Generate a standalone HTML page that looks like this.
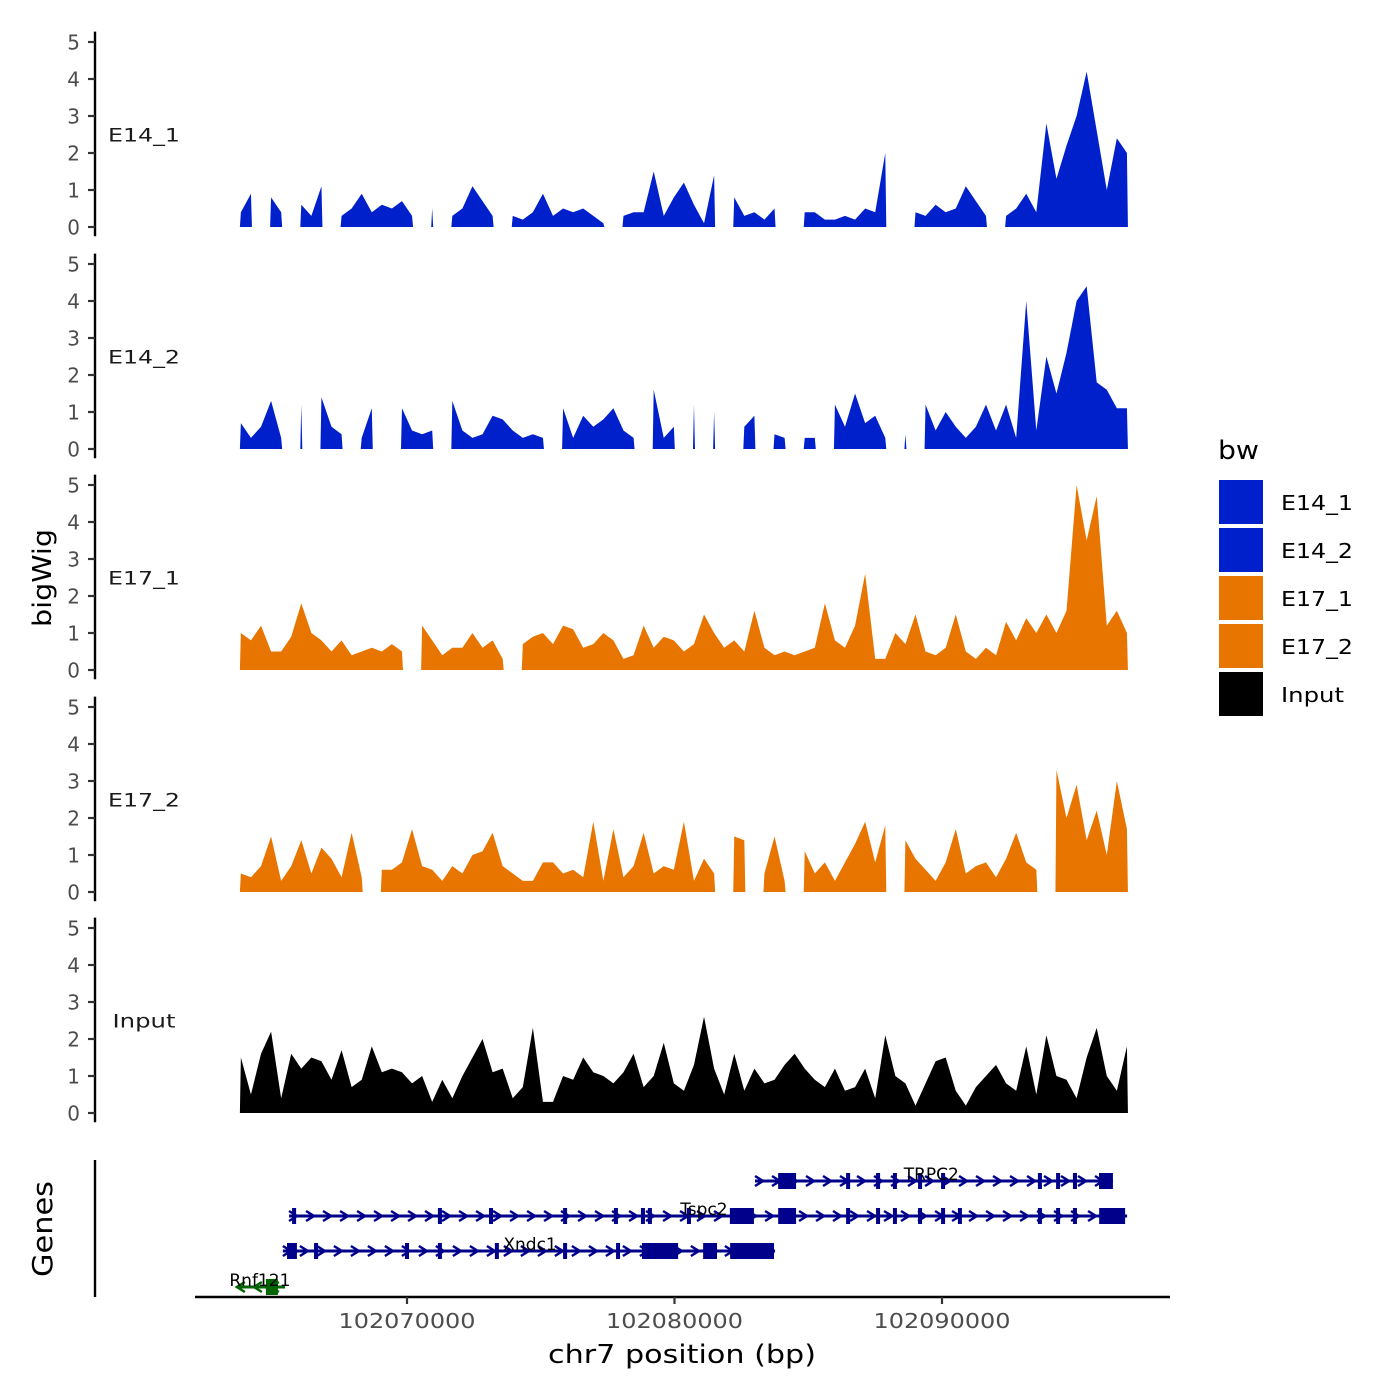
<!DOCTYPE html>
<html><head><meta charset="utf-8"><style>
html,body{margin:0;padding:0;background:#fff}
svg{display:block;font-family:"DejaVu Sans","Liberation Sans",sans-serif}
</style></head><body>
<svg id="chart" width="1400" height="1400" viewBox="0 0 1400 1400"></svg>
<script>
// ---- data ----
const trackNames = ["E14_1","E14_2","E17_1","E17_2","Input"];
const trackColors = ["#0020CC","#0020CC","#E87500","#E87500","#000000"];
const binStartKb = 63.79;   // kb offset from 102000000
const binStepKb = 0.3764;
const e14_1 = [0.4,0.9,null,0.8,0.4,null,0.6,0.3,1.1,null,0.3,0.5,0.9,0.4,0.6,0.5,0.7,0.3,null,0.5,null,0.3,0.5,1.1,0.7,0.3,null,0.3,0.2,0.4,0.9,0.3,0.5,0.4,0.5,0.3,0.1,null,0.3,0.4,0.4,1.5,0.3,0.8,1.2,0.6,0.1,1.4,null,0.8,0.3,0.4,0.2,0.5,null,null,0.4,0.4,0.2,0.2,0.3,0.2,0.5,0.4,2.0,null,null,0.4,0.3,0.6,0.4,0.5,1.1,0.7,0.3,null,0.3,0.5,0.9,0.4,2.8,1.3,2.2,3.0,4.2,2.6,1.0,2.4,2.0];
const e14_2 = [0.7,0.3,0.6,1.3,0.3,null,1.2,null,1.4,0.6,0.4,null,0.3,1.1,null,null,1.1,0.5,0.4,0.5,null,1.3,0.5,0.3,0.4,0.9,0.8,0.5,0.3,0.4,0.3,null,1.1,0.3,0.9,0.6,0.8,1.1,0.5,0.3,null,1.6,0.3,0.6,null,1.2,null,1.0,null,null,0.6,0.9,null,0.4,0.3,null,0.3,0.3,null,1.2,0.6,1.5,0.7,0.9,0.3,null,0.4,null,1.2,0.5,1.0,0.6,0.3,0.6,1.2,0.5,1.2,0.3,4.0,0.5,2.5,1.5,2.6,4.0,4.4,1.8,1.6,1.1,1.1];
const e17_1 = [1.0,0.8,1.2,0.5,0.5,0.9,1.8,1.0,0.8,0.5,0.8,0.4,0.5,0.6,0.5,0.7,0.5,null,1.2,0.8,0.4,0.6,0.6,1.0,0.6,0.8,0.3,null,0.7,0.9,1.0,0.7,1.2,1.1,0.6,0.7,1.0,0.8,0.3,0.4,1.2,0.6,0.9,0.8,0.5,0.7,1.5,1.0,0.6,0.8,0.5,1.6,0.6,0.4,0.5,0.4,0.5,0.6,1.8,0.8,0.6,1.2,2.6,0.3,0.3,1.0,0.7,1.5,0.5,0.4,0.6,1.5,0.5,0.3,0.6,0.4,1.3,0.8,1.4,1.0,1.5,1.0,1.6,5.0,3.5,4.7,1.2,1.6,1.0];
const e17_2 = [0.5,0.4,0.7,1.5,0.3,0.7,1.4,0.5,1.2,0.9,0.4,1.6,0.4,null,0.6,0.6,0.8,1.7,0.7,0.6,0.3,0.7,0.5,1.0,1.1,1.6,0.7,0.5,0.3,0.3,0.8,0.8,0.5,0.6,0.4,1.9,0.3,1.7,0.4,0.7,1.6,0.5,0.7,0.6,1.9,0.3,0.9,0.5,null,1.5,1.4,null,0.5,1.5,0.3,null,1.1,0.5,0.8,0.3,0.8,1.3,1.9,0.8,1.8,null,1.4,0.9,0.6,0.3,0.8,1.7,0.5,0.7,0.8,0.4,0.9,1.6,0.8,0.6,null,3.3,2.0,2.9,1.4,2.2,1.0,3.0,1.7];
const input = [1.5,0.5,1.6,2.2,0.4,1.6,1.2,1.5,1.4,0.9,1.7,0.7,0.9,1.8,1.1,1.2,1.1,0.8,1.0,0.3,0.9,0.4,1.0,1.5,2.0,1.1,1.2,0.4,0.7,2.3,0.3,0.3,1.0,0.9,1.5,1.1,1.0,0.8,1.1,1.6,0.7,1.0,1.9,0.8,0.6,1.3,2.6,1.2,0.5,1.6,0.6,1.2,0.8,0.9,1.3,1.6,1.2,0.9,0.7,1.2,0.6,0.7,1.2,0.4,2.1,1.0,0.8,0.2,0.8,1.4,1.5,0.6,0.2,0.7,1.0,1.3,0.8,0.6,1.8,0.5,2.1,1.0,0.9,0.4,1.5,2.3,1.0,0.6,1.8];
const trackValues = [e14_1,e14_2,e17_1,e17_2,input];
const yTicks = [0,1,2,3,4,5];
const xTickKb = [70,80,90];
const xTickLabels = ["102070000","102080000","102090000"];
// genes (kb offset from 102000000)
const geneNames = ["TRPC2","Tspc2","Xndc1","Rnf121"];
const geneStarts = [83.01,65.59,65.36,63.64];
const geneEnds = [96.39,96.92,83.76,65.44];
const geneStrand = [1,1,1,-1];
const geneColors = ["#00008B","#00008B","#00008B","#006400"];
const geneLabelKb = [89.6,81.1,74.6,64.5];
const geneExonCenters = [
 [84.21,86.49,87.61,88.24,89.18,90.04,93.66,94.34,94.97,96.13],
 [65.78,71.23,73.14,75.91,77.81,78.82,79.08,80.54,82.52,84.21,86.49,87.61,88.24,89.18,90.04,90.67,93.66,94.34,94.97,96.36],
 [65.70,66.60,70.0,71.23,73.36,75.91,77.89,79.46,81.33,82.90],
 [64.95]
];
const geneExonWidths = [
 [0.67,0.15,0.15,0.15,0.15,0.15,0.15,0.15,0.15,0.52],
 [0.15,0.15,0.15,0.15,0.15,0.15,0.15,0.15,0.9,0.67,0.15,0.15,0.15,0.15,0.15,0.15,0.15,0.15,0.15,0.97],
 [0.37,0.15,0.15,0.15,0.15,0.15,0.15,1.35,0.52,1.64],
 [0.45]
];
const legendLabels = ["E14_1","E14_2","E17_1","E17_2","Input"];
const legendColors = ["#0020CC","#0020CC","#E87500","#E87500","#000000"];

// ---- scales ----
const NS="http://www.w3.org/2000/svg";
const svg=document.getElementById('chart');
function xS(kb){return 407+(kb-70)*26.75;}
const panelZero=[227,449,670,892,1113];
function yS(p,v){return panelZero[p]-v*37;}
function mk(tag,attrs,parent){const e=document.createElementNS(NS,tag);for(const k in attrs)e.setAttribute(k,attrs[k]);(parent||svg).appendChild(e);return e;}
function txt(s,attrs,parent){const e=mk('text',attrs,parent);e.textContent=s;return e;}

// ---- tracks ----
trackValues.forEach((vals,p)=>{
  const g=mk('g',{});
  
  
  let run=[];
  const flush=()=>{
    if(!run.length)return;
    const x0=xS(binStartKb+run[0][0]*binStepKb), x1=xS(binStartKb+run[run.length-1][0]*binStepKb);
    let d='M'+(x0-1)+','+yS(p,0);
    run.forEach(([i,v])=>{d+=' L'+xS(binStartKb+i*binStepKb)+','+yS(p,v);});
    d+=' L'+(x1+1)+','+yS(p,0)+' Z';
    const a=mk('path',{d:d,fill:trackColors[p]},g);
    
    
    run=[];
  };
  vals.forEach((v,i)=>{if(v===null)flush();else run.push([i,v]);});
  flush();
  const ax=mk('g',{});
  
  
  mk('line',{x1:95,x2:95,y1:yS(p,5.28),y2:yS(p,-0.25),stroke:'#000','stroke-width':2.4},ax);
  yTicks.forEach(t=>{
    mk('line',{x1:88,x2:95,y1:yS(p,t),y2:yS(p,t),stroke:'#333','stroke-width':2.2},ax);
    const l=txt(String(t),{x:80,y:yS(p,t)+7.5,'text-anchor':'end','font-size':20,fill:'#4d4d4d'},ax);
    
    
  });
  const tl=txt(trackNames[p],{x:144,y:yS(p,2.5)+7,'text-anchor':'middle','font-size':19,fill:'#1a1a1a',textLength:trackNames[p]==='Input'?63:72,lengthAdjust:'spacingAndGlyphs'});
  
  
});

// ---- genes ----
const gRowY=[1181,1216,1251,1287];
const gg=mk('g',{});


mk('line',{x1:95,x2:95,y1:1160,y2:1297,stroke:'#000','stroke-width':2.4},gg);
geneNames.forEach((n,k)=>{
  const y=gRowY[k], c=geneColors[k];
  const gk=mk('g',{},gg);
  
  
  const xa=xS(geneStarts[k]), xb=xS(geneEnds[k]);
  mk('line',{x1:xa,x2:xb,y1:y,y2:y,stroke:c,'stroke-width':3},gk);
  for(let x=xa+4;x<xb-4;x+=17){
    const s=geneStrand[k]*4;
    mk('polyline',{points:(x-s)+','+(y-5)+' '+(x+s)+','+y+' '+(x-s)+','+(y+5),fill:'none',stroke:c,'stroke-width':2.5},gk);
  }
  geneExonCenters[k].forEach((ec,j)=>{
    const w=Math.max(4,geneExonWidths[k][j]*26.75);
    mk('rect',{x:xS(ec)-w/2,y:y-8,width:w,height:16,fill:c},gk);
  });
  txt(n,{x:xS(geneLabelKb[k]),y:y-1,'text-anchor':'middle','font-size':17,fill:'#000'},gk);
});

// ---- x axis ----
const xa=mk('g',{});


mk('line',{x1:195,x2:1170,y1:1297,y2:1297,stroke:'#000','stroke-width':2.4},xa);
xTickKb.forEach((t,i)=>{
  mk('line',{x1:xS(t),x2:xS(t),y1:1297,y2:1304,stroke:'#333','stroke-width':2.2},xa);
  const l=txt(xTickLabels[i],{x:xS(t),y:1328,'text-anchor':'middle','font-size':20,fill:'#4d4d4d',textLength:137,lengthAdjust:'spacingAndGlyphs'},xa);
  
  
});
const xt=txt('chr7 position (bp)',{x:682,y:1363,'text-anchor':'middle','font-size':26,fill:'#000',textLength:268,lengthAdjust:'spacingAndGlyphs'});


const yt=txt('bigWig',{x:0,y:0,'text-anchor':'middle','font-size':26,fill:'#000',transform:'translate(51,578) rotate(-90)',textLength:98,lengthAdjust:'spacingAndGlyphs'});


const gt=txt('Genes',{x:0,y:0,'text-anchor':'middle','font-size':28,fill:'#000',transform:'translate(52,1229) rotate(-90)',textLength:96,lengthAdjust:'spacingAndGlyphs'});



// ---- legend ----
const lg=mk('g',{});


txt('bw',{x:1218,y:459,'font-size':26,fill:'#000',textLength:41,lengthAdjust:'spacingAndGlyphs'},lg);
legendLabels.forEach((l,i)=>{
  const e=mk('g',{},lg);
  
  
  mk('rect',{x:1219,y:480+i*48,width:44,height:44,fill:legendColors[i]},e);
  txt(l,{x:1281,y:510+i*48,'font-size':20,fill:'#000',textLength:l==='Input'?63:72,lengthAdjust:'spacingAndGlyphs'},e);
});
</script>
</body></html>
